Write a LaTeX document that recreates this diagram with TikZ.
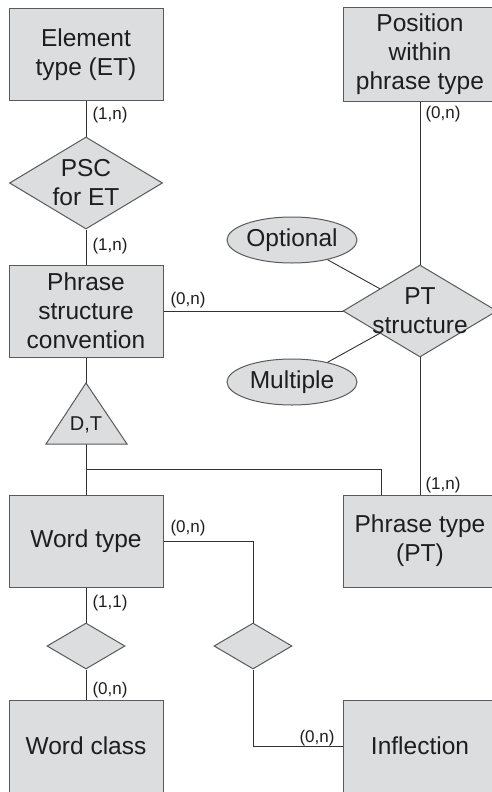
\documentclass[tikz,border=0pt]{standalone}
\usepackage{fontspec}
\setmainfont{Liberation Sans}
\usetikzlibrary{shapes.geometric,calc}
\definecolor{boxfill}{RGB}{220,221,222}
\definecolor{boxline}{RGB}{90,90,90}
\definecolor{conn}{RGB}{50,50,50}
\definecolor{txt}{RGB}{30,30,30}
\tikzset{
  entity/.style={draw=boxline, fill=boxfill, line width=1pt, minimum width=154pt, minimum height=92pt, inner sep=0pt, align=center, text=txt, font=\fontsize{24.5}{29}\selectfont},
  rel/.style={draw=boxline, fill=boxfill, line width=1pt, diamond, inner sep=0pt},
  attr/.style={draw=boxline, fill=boxfill, line width=1pt, ellipse, minimum width=130pt, minimum height=46pt, inner sep=0pt, text=txt, font=\fontsize{24.5}{29}\selectfont},
  bigtxt/.style={align=center, text=txt, inner sep=0pt, font=\fontsize{24.5}{29}\selectfont},
  card/.style={text=txt, inner sep=0pt, font=\fontsize{17}{20}\selectfont},
  link/.style={draw=conn, line width=0.9pt},
}
\begin{document}
\begin{tikzpicture}[x=1pt,y=-1pt]
\clip (0,0) rectangle (492,792);
\fill[white] (0,0) rectangle (492,792);
% connectors (drawn first)
\coordinate (etC) at (86,54.5);
\coordinate (psdC) at (86,183);
\coordinate (pscC) at (86,311);
\coordinate (wtC) at (86,541);
\coordinate (wcdC) at (86,646);
\coordinate (wcC) at (86,746);
\coordinate (posC) at (420,54.5);
\coordinate (ptsC) at (420,311);
\coordinate (ptC) at (420,541);
\coordinate (infdC) at (253,646);
\coordinate (infC) at (420,746);
\coordinate (optC) at (292,240);
\coordinate (mulC) at (292,382);
\coordinate (apex) at (86,383);
\coordinate (bl) at (46,444);
\coordinate (br) at (127,444);
\coordinate (bm) at (86,444);
\coordinate (jn) at (86,469);
\coordinate (jk) at (381,469);

\node[entity] (et) at (etC) {Element\\type (ET)};
\node[rel, minimum width=153pt, minimum height=92pt] (psd) at (psdC) {};
\node[bigtxt] (psdT) at (psdC) {PSC\\for ET};
\node[entity] (psc) at (pscC) {Phrase\\structure\\convention};
\node[entity] (wt) at (wtC) {Word type};
\node[rel, minimum width=78pt, minimum height=46pt] (wcd) at (wcdC) {};
\node[entity] (wc) at (wcC) {Word class};
\node[entity, minimum height=93pt] (pos) at (posC) {Position\\within\\phrase type};
\node[entity] (pt) at (ptC) {Phrase type\\(PT)};
\node[rel, minimum width=78pt, minimum height=46pt] (infd) at (infdC) {};
\node[entity] (inf) at (infC) {Inflection};
\node[attr] (opt) at (optC) {Optional};
\node[attr] (mul) at (mulC) {Multiple};

\begin{scope}[on background layer/.try]
\end{scope}
\draw[link] (et.south) -- (psd.north);
\draw[link] (psd.south) -- (psc.north);
\draw[link] (psc.east) -- (ptsC);
\draw[link] (pos.south) -- (ptsC);
\draw[link] (ptsC) -- (pt.north);
\draw[link] (opt) -- (ptsC);
\draw[link] (mul) -- (ptsC);
\draw[link] (psc.south) -- (apex);
\draw[link] (bm) -- (wt.north);
\draw[link] (jn) -- (jk) -- (jk |- pt.north);
\draw[link] (wt.east) -| (infd.north);
\draw[link] (infd.south) |- (inf.west);
\draw[link] (wt.south) -- (wcd.north);
\draw[link] (wcd.south) -- (wc.north);

\node[rel, minimum width=154pt, minimum height=92pt] (pts) at (ptsC) {};
\node[bigtxt] (ptsT) at (ptsC) {PT\\structure};
\draw[draw=boxline, fill=boxfill, line width=1pt] (apex) -- (br) -- (bl) -- cycle;
\node[text=txt, inner sep=0pt, font=\fontsize{20}{24}\selectfont] (dt) at (86,425) {D,T};

\node[card] (c1) at (110,115) {(1,n)};
\node[card] (c2) at (110,246) {(1,n)};
\node[card] (c3) at (188,300) {(0,n)};
\node[card] (c4) at (443,114) {(0,n)};
\node[card] (c5) at (443,485) {(1,n)};
\node[card] (c6) at (188,528) {(0,n)};
\node[card] (c7) at (110,603) {(1,1)};
\node[card] (c8) at (110,690) {(0,n)};
\node[card] (c9) at (317,738) {(0,n)};
\end{tikzpicture}
\end{document}
